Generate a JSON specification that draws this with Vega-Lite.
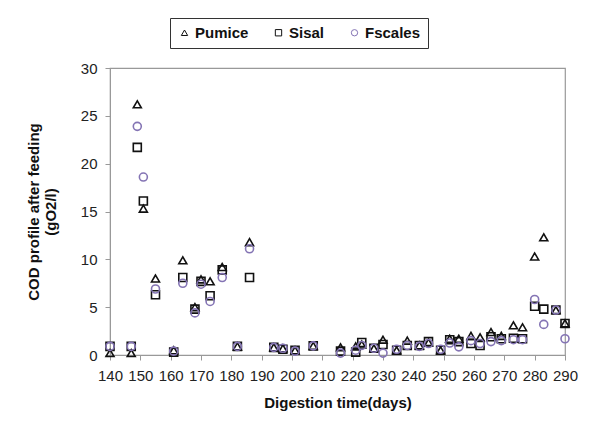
{
  "$schema": "https://vega.github.io/schema/vega-lite/v6.json",
  "autosize": "none",
  "width": 455,
  "height": 287,
  "padding": {"left": 110, "top": 68, "right": 25, "bottom": 76},
  "background": "white",
  "config": {
    "view": {"stroke": "#999999", "strokeWidth": 1.2},
    "font": "Liberation Sans",
    "axis": {
      "grid": false,
      "domainColor": "#999999",
      "tickColor": "#999999",
      "labelColor": "#222222",
      "labelFont": "Liberation Sans",
      "labelFontSize": 15,
      "titleFont": "Liberation Sans",
      "titleFontSize": 15,
      "titleFontWeight": "bold",
      "titleColor": "#111111"
    }
  },
  "data": {
    "values": [
      {"series": "Pumice", "day": 140, "cod": 0.2},
      {"series": "Pumice", "day": 147, "cod": 0.2},
      {"series": "Pumice", "day": 149, "cod": 26.2},
      {"series": "Pumice", "day": 151, "cod": 15.3},
      {"series": "Pumice", "day": 155, "cod": 8.0},
      {"series": "Pumice", "day": 161, "cod": 0.5},
      {"series": "Pumice", "day": 164, "cod": 9.9},
      {"series": "Pumice", "day": 168, "cod": 5.0},
      {"series": "Pumice", "day": 170, "cod": 7.9},
      {"series": "Pumice", "day": 173, "cod": 7.7},
      {"series": "Pumice", "day": 177, "cod": 9.2},
      {"series": "Pumice", "day": 182, "cod": 0.9},
      {"series": "Pumice", "day": 186, "cod": 11.8},
      {"series": "Pumice", "day": 194, "cod": 0.8},
      {"series": "Pumice", "day": 197, "cod": 0.7},
      {"series": "Pumice", "day": 201, "cod": 0.5},
      {"series": "Pumice", "day": 207, "cod": 0.95},
      {"series": "Pumice", "day": 216, "cod": 0.8},
      {"series": "Pumice", "day": 221, "cod": 0.9},
      {"series": "Pumice", "day": 223, "cod": 1.1},
      {"series": "Pumice", "day": 227, "cod": 0.7},
      {"series": "Pumice", "day": 230, "cod": 1.6},
      {"series": "Pumice", "day": 234.5, "cod": 0.5},
      {"series": "Pumice", "day": 238, "cod": 1.5},
      {"series": "Pumice", "day": 242, "cod": 1.0},
      {"series": "Pumice", "day": 245, "cod": 1.3},
      {"series": "Pumice", "day": 249, "cod": 0.5},
      {"series": "Pumice", "day": 252, "cod": 1.7},
      {"series": "Pumice", "day": 255, "cod": 1.7},
      {"series": "Pumice", "day": 259, "cod": 2.0},
      {"series": "Pumice", "day": 262, "cod": 1.85},
      {"series": "Pumice", "day": 265.6, "cod": 2.4},
      {"series": "Pumice", "day": 269, "cod": 2.0},
      {"series": "Pumice", "day": 273, "cod": 3.1},
      {"series": "Pumice", "day": 276, "cod": 2.9},
      {"series": "Pumice", "day": 280, "cod": 10.3},
      {"series": "Pumice", "day": 283, "cod": 12.3},
      {"series": "Pumice", "day": 287, "cod": 4.7},
      {"series": "Pumice", "day": 290, "cod": 3.3},
      {"series": "Sisal", "day": 140, "cod": 0.9},
      {"series": "Sisal", "day": 147, "cod": 0.9},
      {"series": "Sisal", "day": 149, "cod": 21.7},
      {"series": "Sisal", "day": 151, "cod": 16.1},
      {"series": "Sisal", "day": 155, "cod": 6.3},
      {"series": "Sisal", "day": 161, "cod": 0.3},
      {"series": "Sisal", "day": 164, "cod": 8.1},
      {"series": "Sisal", "day": 168, "cod": 4.8},
      {"series": "Sisal", "day": 170, "cod": 7.7},
      {"series": "Sisal", "day": 173, "cod": 6.2},
      {"series": "Sisal", "day": 177, "cod": 8.9},
      {"series": "Sisal", "day": 182, "cod": 0.9},
      {"series": "Sisal", "day": 186, "cod": 8.1},
      {"series": "Sisal", "day": 194, "cod": 0.8},
      {"series": "Sisal", "day": 197, "cod": 0.6},
      {"series": "Sisal", "day": 201, "cod": 0.5},
      {"series": "Sisal", "day": 207, "cod": 0.95},
      {"series": "Sisal", "day": 216, "cod": 0.4},
      {"series": "Sisal", "day": 221, "cod": 0.3},
      {"series": "Sisal", "day": 223, "cod": 1.3},
      {"series": "Sisal", "day": 227, "cod": 0.7},
      {"series": "Sisal", "day": 230, "cod": 1.1},
      {"series": "Sisal", "day": 234.5, "cod": 0.5},
      {"series": "Sisal", "day": 238, "cod": 1.0},
      {"series": "Sisal", "day": 242, "cod": 1.0},
      {"series": "Sisal", "day": 245, "cod": 1.4},
      {"series": "Sisal", "day": 249, "cod": 0.5},
      {"series": "Sisal", "day": 252, "cod": 1.6},
      {"series": "Sisal", "day": 255, "cod": 1.4},
      {"series": "Sisal", "day": 259, "cod": 1.2},
      {"series": "Sisal", "day": 262, "cod": 1.0},
      {"series": "Sisal", "day": 265.6, "cod": 1.9},
      {"series": "Sisal", "day": 269, "cod": 1.7},
      {"series": "Sisal", "day": 273, "cod": 1.75},
      {"series": "Sisal", "day": 276, "cod": 1.7},
      {"series": "Sisal", "day": 280, "cod": 5.1},
      {"series": "Sisal", "day": 283, "cod": 4.8},
      {"series": "Sisal", "day": 287, "cod": 4.7},
      {"series": "Sisal", "day": 290, "cod": 3.3},
      {"series": "Fscales", "day": 140, "cod": 0.9},
      {"series": "Fscales", "day": 147, "cod": 0.9},
      {"series": "Fscales", "day": 149, "cod": 23.9},
      {"series": "Fscales", "day": 151, "cod": 18.6},
      {"series": "Fscales", "day": 155, "cod": 6.9},
      {"series": "Fscales", "day": 161, "cod": 0.4},
      {"series": "Fscales", "day": 164, "cod": 7.5},
      {"series": "Fscales", "day": 168, "cod": 4.4},
      {"series": "Fscales", "day": 170, "cod": 7.4},
      {"series": "Fscales", "day": 173, "cod": 5.6},
      {"series": "Fscales", "day": 177, "cod": 8.1},
      {"series": "Fscales", "day": 182, "cod": 0.9},
      {"series": "Fscales", "day": 186, "cod": 11.1},
      {"series": "Fscales", "day": 194, "cod": 0.8},
      {"series": "Fscales", "day": 197, "cod": 0.7},
      {"series": "Fscales", "day": 201, "cod": 0.4},
      {"series": "Fscales", "day": 207, "cod": 0.95},
      {"series": "Fscales", "day": 216, "cod": 0.2},
      {"series": "Fscales", "day": 221, "cod": 0.5},
      {"series": "Fscales", "day": 223, "cod": 1.0},
      {"series": "Fscales", "day": 227, "cod": 0.7},
      {"series": "Fscales", "day": 230, "cod": 0.2},
      {"series": "Fscales", "day": 234.5, "cod": 0.6},
      {"series": "Fscales", "day": 238, "cod": 1.0},
      {"series": "Fscales", "day": 242, "cod": 0.9},
      {"series": "Fscales", "day": 245, "cod": 1.2},
      {"series": "Fscales", "day": 249, "cod": 0.6},
      {"series": "Fscales", "day": 252, "cod": 1.25},
      {"series": "Fscales", "day": 255, "cod": 0.85},
      {"series": "Fscales", "day": 259, "cod": 1.5},
      {"series": "Fscales", "day": 262, "cod": 1.2},
      {"series": "Fscales", "day": 265.6, "cod": 1.4},
      {"series": "Fscales", "day": 269, "cod": 1.5},
      {"series": "Fscales", "day": 273, "cod": 1.6},
      {"series": "Fscales", "day": 276, "cod": 1.6},
      {"series": "Fscales", "day": 280, "cod": 5.8},
      {"series": "Fscales", "day": 283, "cod": 3.2},
      {"series": "Fscales", "day": 287, "cod": 4.7},
      {"series": "Fscales", "day": 290, "cod": 1.7}
    ]
  },
  "mark": {"type": "point", "filled": false, "size": 64, "strokeWidth": 1.6, "opacity": 1},
  "encoding": {
    "x": {
      "field": "day", "type": "quantitative",
      "scale": {"domain": [140, 290], "nice": false, "zero": false},
      "axis": {"values": [140,150,160,170,180,190,200,210,220,230,240,250,260,270,280,290], "title": "Digestion time(days)", "labelOverlap": false, "labelFlush": false, "labelBound": false, "labelPadding": 8, "titlePadding": 12, "tickSize": 5}
    },
    "y": {
      "field": "cod", "type": "quantitative",
      "scale": {"domain": [0, 30], "nice": false},
      "axis": {"values": [0,5,10,15,20,25,30], "title": ["COD profile after feeding", "(gO2/l)"], "labelFlush": false, "labelPadding": 8, "titlePadding": 22, "tickSize": 5}
    },
    "shape": {
      "field": "series", "type": "nominal",
      "scale": {"domain": ["Pumice", "Sisal", "Fscales"], "range": ["triangle-up", "square", "circle"]},
      "legend": {"title": null}
    },
    "color": {
      "field": "series", "type": "nominal",
      "scale": {"domain": ["Pumice", "Sisal", "Fscales"], "range": ["#111111", "#111111", "#8474b4"]},
      "legend": {
        "title": null,
        "orient": "none",
        "legendX": 60,
        "legendY": -50,
        "direction": "horizontal",
        "strokeColor": "#333333",
        "padding": 7,
        "labelFont": "Liberation Sans",
        "labelFontSize": 15,
        "labelFontWeight": "bold",
        "labelColor": "#111111",
        "symbolSize": 40,
        "symbolStrokeWidth": 1,
        "columnPadding": 22,
        "labelOffset": 3
      }
    }
  }
}
